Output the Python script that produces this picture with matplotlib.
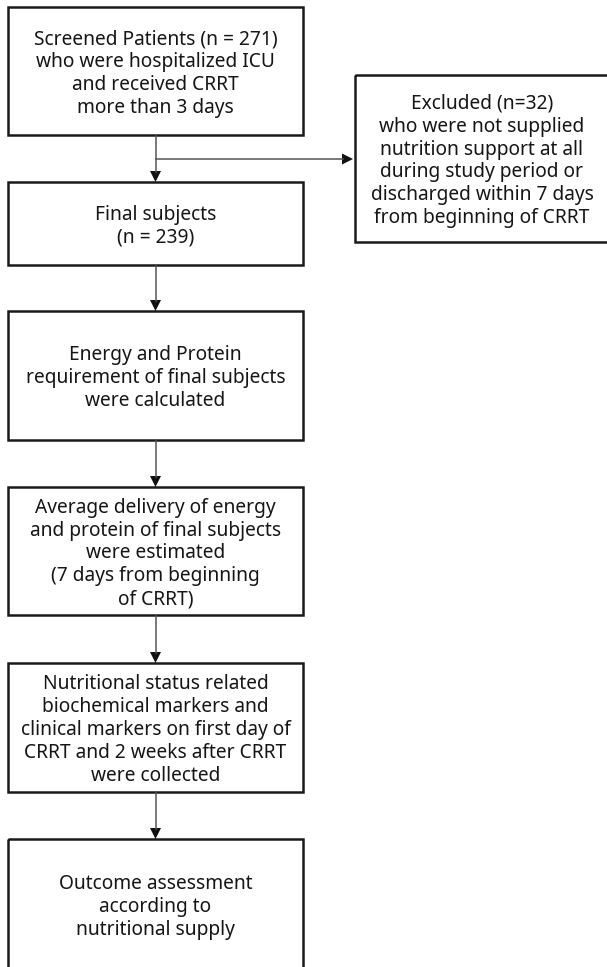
import matplotlib.pyplot as plt
from matplotlib.patches import Rectangle, Polygon

# flow boxes (top to bottom) and the side exclusion box
steps = [
    "Screened Patients (n = 271)\nwho were hospitalized ICU\nand received CRRT\nmore than 3 days",
    "Final subjects\n(n = 239)",
    "Energy and Protein\nrequirement of final subjects\nwere calculated",
    "Average delivery of energy\nand protein of final subjects\nwere estimated\n(7 days from beginning\nof CRRT)",
    "Nutritional status related\nbiochemical markers and\nclinical markers on first day of\nCRRT and 2 weeks after CRRT\nwere collected",
    "Outcome assessment\naccording to\nnutritional supply",
]
excluded = ("Excluded (n=32)\nwho were not supplied\nnutrition support at all\n"
            "during study period or\ndischarged within 7 days\nfrom beginning of CRRT")

# pixel layout (y grows downward)
step_top = [7, 182, 311, 487, 663, 839]
step_bot = [135, 265, 440, 615, 792, 970]
left, right = 8, 303
ex_box = (355, 75, 612, 242)
cx = (left + right) / 2
split_y = 159
text_dy = 2.5  # text sits a touch below the box centre

W, H = 607, 967
fig = plt.figure(figsize=(W / 100, H / 100), dpi=100)
ax = fig.add_axes([0, 0, 1, 1])
ax.set_xlim(0, W)
ax.set_ylim(H, 0)
ax.axis("off")

font = dict(family=["Noto Sans", "DejaVu Sans"], fontsize=13.8,
            color="#161616", ha="center", va="center", linespacing=1.19)
box_kw = dict(fill=False, edgecolor="#1a1a1a", linewidth=1.8)
line_kw = dict(color="#555555", linewidth=1.1)


def arrow_head(x, y, direction):
    # small filled triangle with its tip at (x, y)
    if direction == "down":
        pts = [(x, y), (x - 5.5, y - 11), (x + 5.5, y - 11)]
    else:
        pts = [(x, y), (x - 11, y - 5.5), (x - 11, y + 5.5)]
    ax.add_patch(Polygon(pts, closed=True, facecolor="#111111", edgecolor="none"))


for text, top, bot in zip(steps, step_top, step_bot):
    ax.add_patch(Rectangle((left, top), right - left, bot - top, **box_kw))
    ax.text(cx, (top + bot) / 2 + text_dy, text, **font)

x0, y0, x1, y1 = ex_box
ax.add_patch(Rectangle((x0, y0), x1 - x0, y1 - y0, **box_kw))
ax.text(482, (y0 + y1) / 2 + text_dy, excluded, **font)

for i in range(len(steps) - 1):
    ax.plot([cx, cx], [step_bot[i] + 1, step_top[i + 1] - 10], **line_kw)
    arrow_head(cx, step_top[i + 1], "down")

ax.plot([cx, x0 - 12], [split_y, split_y], **line_kw)
arrow_head(x0 - 2, split_y, "right")

fig.savefig("out.png", dpi=100)
